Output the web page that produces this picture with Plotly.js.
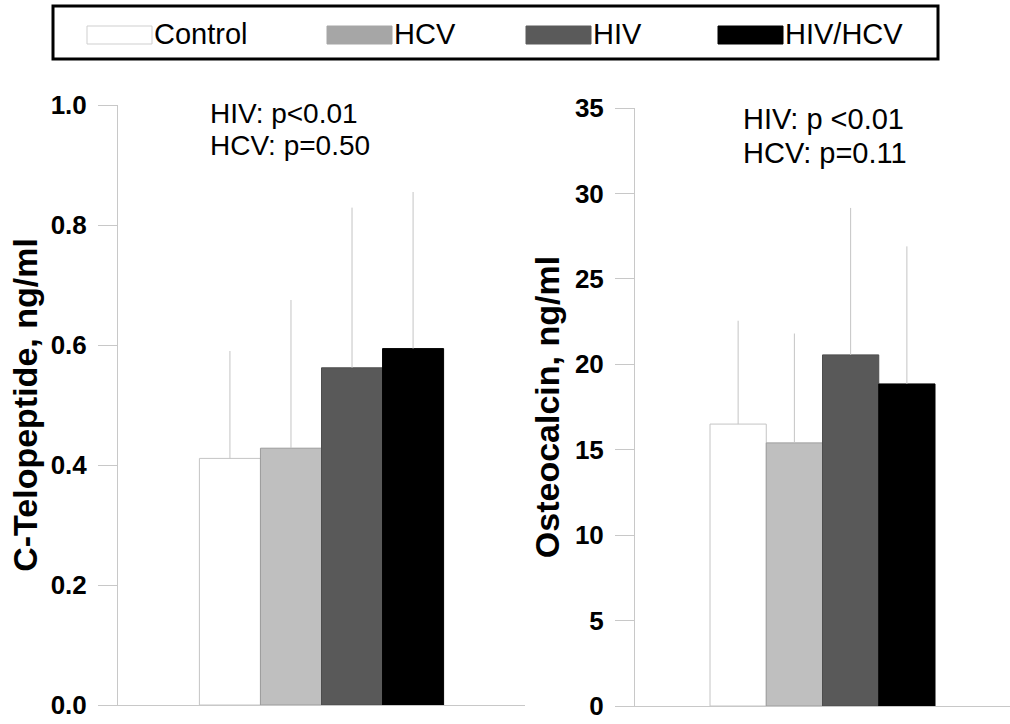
<!DOCTYPE html>
<html>
<head>
<meta charset="utf-8">
<script src="https://cdn.plot.ly/plotly-3.0.1.min.js"></script>
<style>html,body{margin:0;padding:0;background:#fff;}#chart{width:1010px;height:724px;}</style>
</head>
<body>
<div id="chart"></div>
<script>
// ---- data ----
const groups = ['Control', 'HCV', 'HIV', 'HIV/HCV'];
const panelNames = ['C-Telopeptide', 'Osteocalcin'];
const ctxMean = [0.411, 0.428, 0.562, 0.594];
const ctxErr = [0.179, 0.247, 0.267, 0.261];
const ocMean = [16.5, 15.4, 20.55, 18.85];
const ocErr = [6.05, 6.4, 8.6, 8.05];
const pLinesLeft = ['HIV: p&lt;0.01', 'HCV: p=0.50'];
const pLinesRight = ['HIV: p &lt;0.01', 'HCV: p=0.11'];
const yTitles = ['C-Telopeptide, ng/ml', 'Osteocalcin, ng/ml'];

// ---- styles ----
const fills = ['#ffffff', '#bfbfbf', '#595959', '#000000'];
const legendFills = ['#ffffff', '#a6a6a6', '#5a5a5a', '#000000'];
const outlines = ['#c4c4c4', '#9c9c9c', '#4d4d4d', '#000000'];
const axisGray = '#c8c8c8';
const errGray = '#c4c4c4';
const FONT = 'Liberation Sans, Arial, sans-serif';
const W = 1010, H = 724;
const px = x => x / W;
const py = y => 1 - y / H;

const traces = [];
function addPanel(means, errs, xa, ya, cat) {
  groups.forEach((g, i) => {
    traces.push({
      type: 'bar', name: g, x: [cat], y: [means[i]],
      xaxis: xa, yaxis: ya,
      marker: {color: fills[i], line: {color: outlines[i], width: 1}},
      error_y: {type: 'data', symmetric: false, array: [errs[i]], arrayminus: [0],
                color: errGray, thickness: 1, width: 0},
      hoverinfo: 'name+y', showlegend: false
    });
  });
}
addPanel(ctxMean, ctxErr, 'x', 'y', panelNames[0]);
addPanel(ocMean, ocErr, 'x2', 'y2', panelNames[1]);

function xAxis(domain, anchor) {
  return {domain: domain, anchor: anchor, showline: true, linecolor: axisGray, linewidth: 1,
          ticks: '', showticklabels: false, showgrid: false, zeroline: false, fixedrange: true};
}
function yAxis(domain, anchor, range, dtick, fmt, title, standoff) {
  return {domain: domain, anchor: anchor, range: range, dtick: dtick, tick0: 0, tickformat: fmt,
          showline: true, linecolor: axisGray, linewidth: 1, ticks: 'outside', ticklen: 19,
          ticklabelstandoff: 6,
          tickcolor: axisGray, tickwidth: 1, showgrid: false, zeroline: false, fixedrange: true,
          tickfont: {family: FONT, size: 26, color: '#000', weight: 'bold'},
          title: {text: title, standoff: standoff, font: {family: FONT, size: 34, color: '#000', weight: 'bold'}}};
}

const shapes = [];
const annotations = [];
// legend box
shapes.push({type: 'rect', xref: 'paper', yref: 'paper', x0: px(53), x1: px(938), y0: py(59), y1: py(6),
             line: {color: '#000', width: 3}, fillcolor: 'rgba(0,0,0,0)'});
const swX = [87, 327, 526, 718];
const swW = 65;
groups.forEach((g, i) => {
  shapes.push({type: 'rect', xref: 'paper', yref: 'paper', x0: px(swX[i]), x1: px(swX[i] + swW),
               y0: py(44), y1: py(26), fillcolor: legendFills[i],
               line: {color: i === 0 ? '#cfcfcf' : legendFills[i], width: 1}});
  annotations.push({xref: 'paper', yref: 'paper', x: px(swX[i] + swW), y: py(34),
                    xanchor: 'left', yanchor: 'middle', showarrow: false, text: g,
                    font: {family: FONT, size: 29, color: '#000'}});
});
// p-value notes (one annotation per line for tighter line spacing)
const leftY = [113, 145], rightY = [119, 153];
pLinesLeft.forEach((t, k) => annotations.push({xref: 'paper', yref: 'paper', x: px(208), y: py(leftY[k]),
  xanchor: 'left', yanchor: 'middle', showarrow: false, text: t,
  font: {family: FONT, size: 28, color: '#000'}}));
pLinesRight.forEach((t, k) => annotations.push({xref: 'paper', yref: 'paper', x: px(741), y: py(rightY[k]),
  xanchor: 'left', yanchor: 'middle', showarrow: false, text: t,
  font: {family: FONT, size: 29, color: '#000'}}));

const layout = {
  width: W, height: H, margin: {l: 0, r: 0, t: 0, b: 0},
  paper_bgcolor: '#fff', plot_bgcolor: '#fff',
  barmode: 'group', bargap: 0.4, bargroupgap: 0,
  showlegend: false,
  xaxis: xAxis([px(118), px(525)], 'y'),
  yaxis: yAxis([py(705), py(105)], 'x', [0, 1], 0.2, '.1f', yTitles[0], 2),
  xaxis2: xAxis([px(635), 1], 'y2'),
  yaxis2: yAxis([py(706), py(108)], 'x2', [0, 35], 5, 'd', yTitles[1], 4),
  shapes: shapes, annotations: annotations
};

Plotly.newPlot('chart', traces, layout, {displayModeBar: false, staticPlot: true});
</script>
</body>
</html>
